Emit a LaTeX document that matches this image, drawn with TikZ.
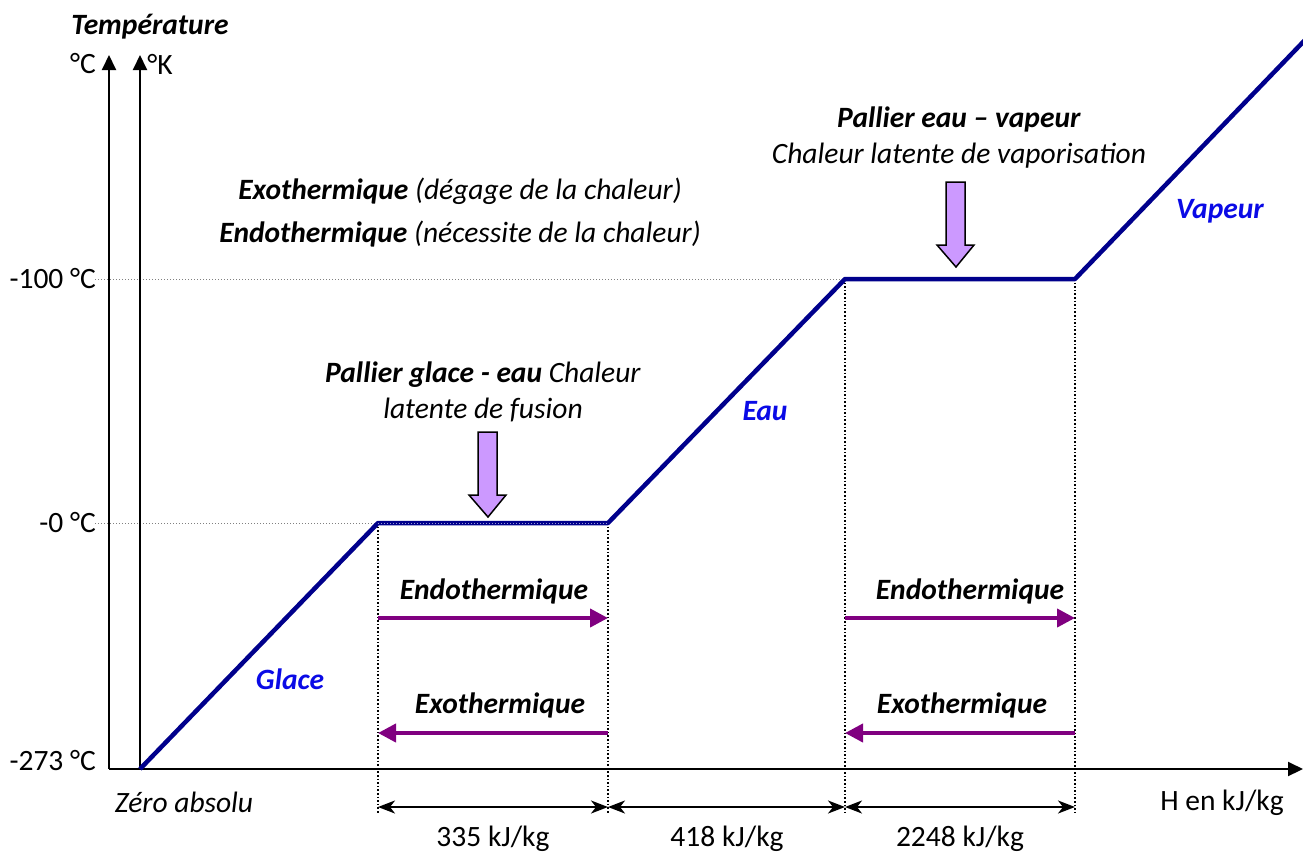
\documentclass[tikz,border=0pt]{standalone}
\usepackage{fontspec}
\setmainfont{Carlito}
\usetikzlibrary{arrows.meta}
\definecolor{curvecol}{RGB}{0,0,140}
\definecolor{phasecol}{RGB}{10,10,230}
\definecolor{flowcol}{RGB}{128,0,128}
\definecolor{blockfill}{RGB}{204,153,255}
\newcommand{\basefont}{\fontsize{29.5}{36}\selectfont}
\tikzset{
  axis/.style={line width=2pt,-{Triangle[width=14pt,length=15pt]}},
  curveline/.style={line width=4.5pt,curvecol,line join=round},
  guide/.style={gray,dotted,line width=1pt},
  vguide/.style={black,dotted,line width=1.6pt},
  dim/.style={line width=2pt,{Stealth[width=13pt,length=17pt,inset=5pt]}-{Stealth[width=13pt,length=17pt,inset=5pt]}},
  flow/.style={line width=4pt,flowcol,-{Triangle[width=18pt,length=18pt]}},
  block/.style={draw=black,fill=blockfill,line width=1.5pt,line join=miter},
  lbl/.style={inner sep=0pt},
  phase/.style={inner sep=0pt,text=phasecol,font=\basefont\bfseries\itshape},
  bi/.style={inner sep=0pt,font=\basefont\bfseries\itshape},
}
\begin{document}
\begin{tikzpicture}[x=1pt,y=-1pt,font=\basefont]
\useasboundingbox (0,0) rectangle (1303,852);

% axes
\coordinate (C0) at (109,769);
\coordinate (Ctop) at (109,55);
\coordinate (K0) at (140,769);
\coordinate (Ktop) at (140,55);
\coordinate (Hend) at (1303,769);

% points of the heating curve
\coordinate (P0) at (140,769);
\coordinate (P1) at (378,523);
\coordinate (P2) at (608,523);
\coordinate (P3) at (845,279);
\coordinate (P4) at (1075,279);
\coordinate (P5) at (1305,40);

% temperature guides
\coordinate (G0) at (95,523);
\coordinate (G100) at (95,279);
\draw[guide] (G100) -- (P3);
\draw[guide] (G0) -- (P1);

% vertical guides down to the dimension line
\coordinate (B1) at (378,813);
\coordinate (B2) at (608,813);
\coordinate (B3) at (845,813);
\coordinate (B4) at (1075,813);
\draw[vguide] (P1) -- (B1);
\draw[vguide] (P2) -- (B2);
\draw[vguide] (P3) -- (B3);
\draw[vguide] (P4) -- (B4);

\draw[axis] (C0) -- (Ctop);
\draw[axis] (K0) -- (Ktop);
\draw[axis] (C0) -- (Hend);

% heating curve
\draw[curveline] (P0) -- (P1) -- (P2) -- (P3) -- (P4) -- (P5);
\draw[white!60!curvecol,dotted,line width=1pt] (P1) -- (P2);

% axis labels
\node[bi,anchor=center] (ttl) at (150,27) {Température};
\node[lbl] (degC) at (83,64) {°C};
\node[lbl] (degK) at (160,64) {°K};
\node[lbl,anchor=east] (t100) at (96,279) {-100 °C};
\node[lbl,anchor=east] (t0) at (96,523) {-0 °C};
\node[lbl,anchor=east] (t273) at (96,761) {-273 °C};
\node[lbl,font=\basefont\itshape] (zero) at (184,802) {Zéro absolu};
\node[lbl] (hlab) at (1222,803) {H en kJ/kg};

% enthalpy intervals
\coordinate (D1) at (378,807);
\coordinate (D2) at (608,807);
\coordinate (D3) at (845,807);
\coordinate (D4) at (1075,807);
\draw[dim] (D1) -- (D2);
\draw[dim] (D2) -- (D3);
\draw[dim] (D3) -- (D4);
\node[lbl] (h1) at (493,839) {335 kJ/kg};
\node[lbl] (h2) at (727,839) {418 kJ/kg};
\node[lbl] (h3) at (960,839) {2248 kJ/kg};

% phases
\node[phase] (glace) at (290,679) {Glace};
\node[phase] (eau) at (765,411) {Eau};
\node[phase] (vapeur) at (1220,211) {Vapeur};

% heat flow arrows on the plateaus
\coordinate (F1a) at (378,618);
\coordinate (F1b) at (608,618);
\coordinate (F2a) at (608,733);
\coordinate (F2b) at (378,733);
\coordinate (F3a) at (845,618);
\coordinate (F3b) at (1075,618);
\coordinate (F4a) at (1075,733);
\coordinate (F4b) at (845,733);
\draw[flow] (F1a) -- (F1b);
\draw[flow] (F2a) -- (F2b);
\draw[flow] (F3a) -- (F3b);
\draw[flow] (F4a) -- (F4b);
\node[bi] (endo1) at (494,591) {Endothermique};
\node[bi] (exo1) at (500,705) {Exothermique};
\node[bi] (endo2) at (970,591) {Endothermique};
\node[bi] (exo2) at (962,705) {Exothermique};

% plateau captions
\node[lbl,align=center] (pal1) at (483,392)
  {\textbf{\textit{Pallier glace - eau}} \textit{Chaleur}\\\textit{latente de fusion}};
\node[lbl,align=center] (pal2) at (959,138)
  {\textbf{\textit{Pallier eau – vapeur}}\\\textit{Chaleur latente de vaporisation}};
\node[lbl,align=center] (legend) at (460,213)
  {\textbf{\textit{Exothermique}} \textit{(dégage de la chaleur)}\\[7pt]
   \textbf{\textit{Endothermique}} \textit{(nécessite de la chaleur)}};

% block arrows pointing at the plateaus
\draw[block] (478,432) -- (497,432) -- (497,495) -- (506,495) -- (488,517)
  -- (469,495) -- (478,495) -- cycle;
\draw[block] (946,182) -- (965,182) -- (965,245) -- (974,245) -- (956,267)
  -- (937,245) -- (946,245) -- cycle;
\end{tikzpicture}
\end{document}
